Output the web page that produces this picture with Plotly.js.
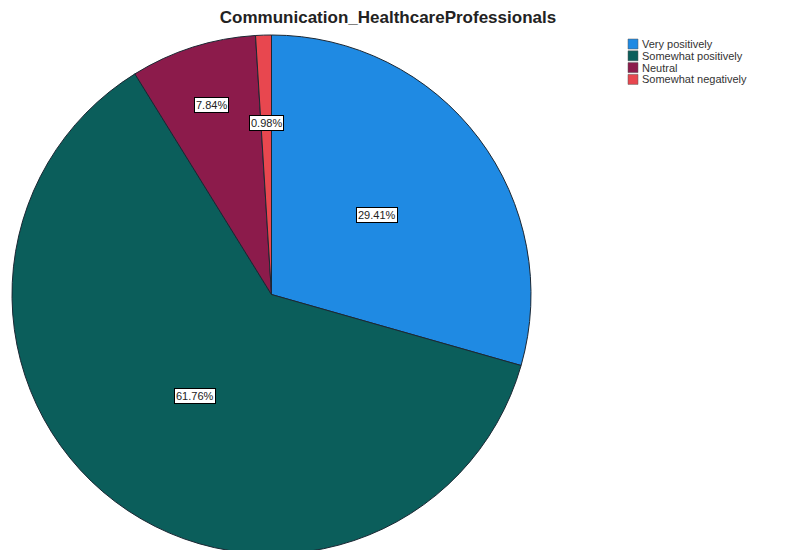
<!DOCTYPE html>
<html>
<head>
<meta charset="utf-8">
<script src="https://cdn.plot.ly/plotly-3.0.1.min.js"></script>
<style>
html,body{margin:0;padding:0;overflow:hidden;background:#fff;width:785px;height:550px;}
#chart{width:785px;height:560px;}
</style>
</head>
<body>
<div id="chart"></div>
<script>
// ---- data ----
const chartTitle = 'Communication_HealthcareProfessionals';
const categories = ['Very positively', 'Somewhat positively', 'Neutral', 'Somewhat negatively'];
const counts = [30, 63, 8, 1];
const sliceColors = ['#1f8ae3', '#0b5e5b', '#8c1b4b', '#e8474f'];

// ---- layout constants ----
const W = 785, H = 560;
const cx = 271.5, cy = 294.5, R = 259.5;
const labelRadius = [0.51, 0.49, 0.765, 0.66];
const legendX = 628, legendY0 = 44, legendStep = 11.8, legendBox = 10;
const FONT = 'Arial, "Liberation Sans", sans-serif';

const total = counts.reduce((a, b) => a + b, 0);

const trace = {
  type: 'pie',
  values: counts,
  labels: categories,
  marker: {colors: sliceColors, line: {color: '#1b2733', width: 1}},
  sort: false,
  direction: 'clockwise',
  rotation: 0,
  textinfo: 'none',
  hoverinfo: 'label+percent',
  showlegend: false,
  domain: {x: [(cx - R) / W, (cx + R) / W], y: [1 - (cy + R) / H, 1 - (cy - R) / H]}
};

const annotations = [];
const shapes = [];
let cum = 0;
counts.forEach((v, i) => {
  const theta = 2 * Math.PI * (cum + v / 2) / total;
  cum += v;
  const px = cx + R * labelRadius[i] * Math.sin(theta);
  const py = cy - R * labelRadius[i] * Math.cos(theta);
  annotations.push({
    xref: 'paper', yref: 'paper', x: px / W, y: 1 - py / H,
    xanchor: 'center', yanchor: 'middle', showarrow: false,
    text: (100 * v / total).toFixed(2) + '%',
    font: {family: FONT, size: 11, color: '#222'},
    bgcolor: '#ffffff', bordercolor: '#000000', borderwidth: 1, borderpad: 1
  });
  // legend entries
  const ly = legendY0 + i * legendStep;
  shapes.push({
    type: 'rect', xref: 'paper', yref: 'paper',
    x0: legendX / W, x1: (legendX + legendBox) / W,
    y0: 1 - (ly + legendBox / 2) / H, y1: 1 - (ly - legendBox / 2) / H,
    fillcolor: sliceColors[i], line: {color: '#555', width: 0.5}
  });
  annotations.push({
    xref: 'paper', yref: 'paper', x: (legendX + legendBox + 2) / W, y: 1 - ly / H,
    xanchor: 'left', yanchor: 'middle', showarrow: false,
    text: categories[i],
    font: {family: FONT, size: 11, color: '#333'}
  });
});

const layout = {
  width: W, height: H,
  margin: {l: 0, r: 0, t: 0, b: 0},
  paper_bgcolor: '#ffffff',
  showlegend: false,
  title: {
    text: '<b>' + chartTitle + '</b>',
    font: {family: FONT, size: 17, color: '#222'},
    x: 388 / W, xanchor: 'center', xref: 'paper',
    y: 1 - 17 / H, yanchor: 'middle', yref: 'container'
  },
  annotations: annotations,
  shapes: shapes
};

Plotly.newPlot('chart', [trace], layout, {displayModeBar: false, staticPlot: true});
</script>
</body>
</html>
